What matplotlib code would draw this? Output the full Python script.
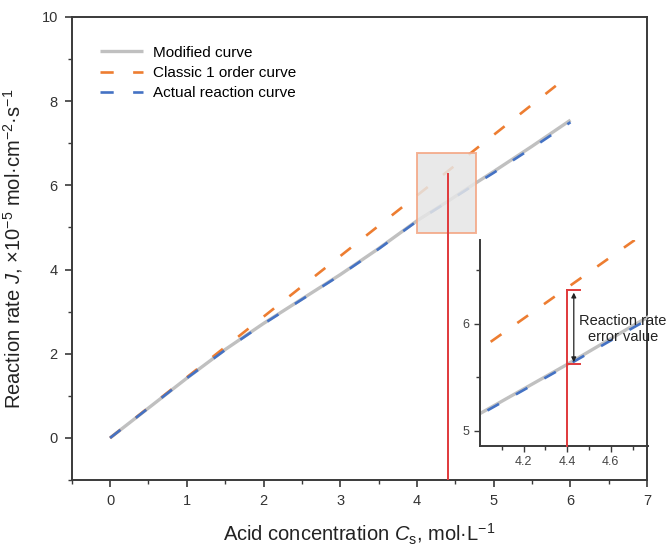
import numpy as np
import matplotlib
matplotlib.use("Agg")
import matplotlib.pyplot as plt
from matplotlib.patches import Rectangle

plt.rcParams['font.family'] = ['Liberation Sans', 'DejaVu Sans']
plt.rcParams['mathtext.fontset'] = 'custom'
plt.rcParams['mathtext.rm'] = 'Liberation Sans'
plt.rcParams['mathtext.it'] = 'Liberation Sans:italic'
plt.rcParams['lines.scale_dashes'] = False

# acid concentration, mol/L
conc = [0, 0.5, 1, 1.5, 2, 2.5, 3, 3.5, 4, 4.4, 4.7, 5, 5.5, 6]
# modified model
j_modified = [0, 0.71, 1.42, 2.10, 2.72, 3.30, 3.88, 4.50, 5.16, 5.62, 5.98, 6.33, 6.93, 7.55]
# measured reaction rate
j_actual = [0, 0.71, 1.42, 2.09, 2.71, 3.29, 3.87, 4.49, 5.15, 5.61, 5.96, 6.30, 6.89, 7.50]
# classic first order: J = k*C
k_classic = 1.44
conc_classic = [0, 6]
j_classic = [k_classic * c for c in conc_classic]

# zoom window and error marker
zoom_x = (4.0, 4.77)
zoom_y = (4.86, 6.78)
err_x = 4.4
err_top = 6.31
err_bot = 5.62

c_gray = '#c0c0c0'
c_orange = '#ED7D31'
c_blue = '#4472C4'
c_red = '#e0393b'
c_axis = '#3a3a3a'
dash = (9.5, 14)


def draw_curves(ax):
    ax.plot(conc, j_modified, color=c_gray, lw=2.4, solid_capstyle='butt', label='Modified curve', zorder=2)
    ax.plot(conc_classic, j_classic, color=c_orange, lw=1.9, dashes=dash, label='Classic 1 order curve', zorder=3)
    ax.plot(conc, j_actual, color=c_blue, lw=1.9, dashes=dash, label='Actual reaction curve', zorder=3)


fig = plt.figure(figsize=(6.7, 5.48), dpi=100)
ax = fig.add_axes([0.107, 0.124, 0.859, 0.845])
draw_curves(ax)

ax.set_xlim(-0.5, 7)
ax.set_ylim(-1, 10)
ax.set_xticks(range(0, 8))
ax.set_xticks(np.arange(-0.5, 7.01, 0.5), minor=True)
ax.set_yticks(range(0, 11, 2))
ax.set_yticks(range(-1, 11), minor=True)
ax.tick_params(which='major', direction='out', length=5, width=1.2, colors=c_axis, labelsize=10.5,
               labelcolor='#333333', pad=5)
ax.tick_params(which='minor', direction='out', length=3, width=1.0, colors=c_axis)
for s in ax.spines.values():
    s.set_color(c_axis)
    s.set_linewidth(1.4)

ax.set_xlabel(r'Acid concentration $C_\mathrm{s}$, mol·L$^{-1}$', fontsize=14.5, labelpad=10, color='#222222')
ax.set_ylabel(r'Reaction rate $J$, ×10$^{-5}$ mol·cm$^{-2}$·s$^{-1}$', fontsize=14.5, labelpad=12, color='#222222')

leg = ax.legend(loc='upper left', bbox_to_anchor=(0.025, 0.968), frameon=False, fontsize=11,
                handlelength=2.8, handletextpad=0.65, labelspacing=0.42)

# highlighted zoom window
ax.add_patch(Rectangle((zoom_x[0], zoom_y[0]), zoom_x[1] - zoom_x[0], zoom_y[1] - zoom_y[0],
                       facecolor='#e6e6e6', edgecolor='#f4a582', lw=1.4, alpha=0.85, zorder=4))
ax.plot([err_x, err_x], [-1, 6.28], color=c_red, lw=1.4, zorder=5)

# inset
axi = fig.add_axes([0.7164, 0.1867, 0.2507, 0.375])
draw_curves(axi)
axi.set_xlim(*zoom_x)
axi.set_ylim(*zoom_y)
axi.set_xticks([4.2, 4.4, 4.6])
axi.set_xticks([4.1, 4.3, 4.5, 4.7], minor=True)
axi.set_yticks([5, 6])
axi.set_yticks([5.5, 6.5], minor=True)
axi.tick_params(which='major', direction='out', length=4, width=1.0, colors=c_axis, labelsize=9,
                labelcolor='#444444')
axi.tick_params(which='minor', direction='out', length=3, width=1.0, colors=c_axis)
axi.spines['top'].set_visible(False)
axi.spines['right'].set_visible(False)
for s in ('left', 'bottom'):
    axi.spines[s].set_color(c_axis)
    axi.spines[s].set_linewidth(1.4)
axi.patch.set_alpha(0)

axi.plot([err_x, err_x], [zoom_y[0], err_top], color=c_red, lw=1.4, zorder=5, clip_on=False)
axi.plot([err_x, 4.46], [err_top, err_top], color=c_red, lw=1.4, zorder=5)
axi.plot([err_x, 4.46], [err_bot, err_bot], color=c_red, lw=1.4, zorder=5)
axi.annotate('', xy=(4.43, err_bot + 0.02), xytext=(4.43, err_top - 0.02),
             arrowprops=dict(arrowstyle='<|-|>', color='#222222', lw=0.9, mutation_scale=7, shrinkA=0, shrinkB=0))
axi.text(4.655, 5.95, 'Reaction rate\nerror value', ha='center', va='center', fontsize=10.5,
         color='#222222', linespacing=1.2, clip_on=False)

fig.savefig('out.png', dpi=100)
